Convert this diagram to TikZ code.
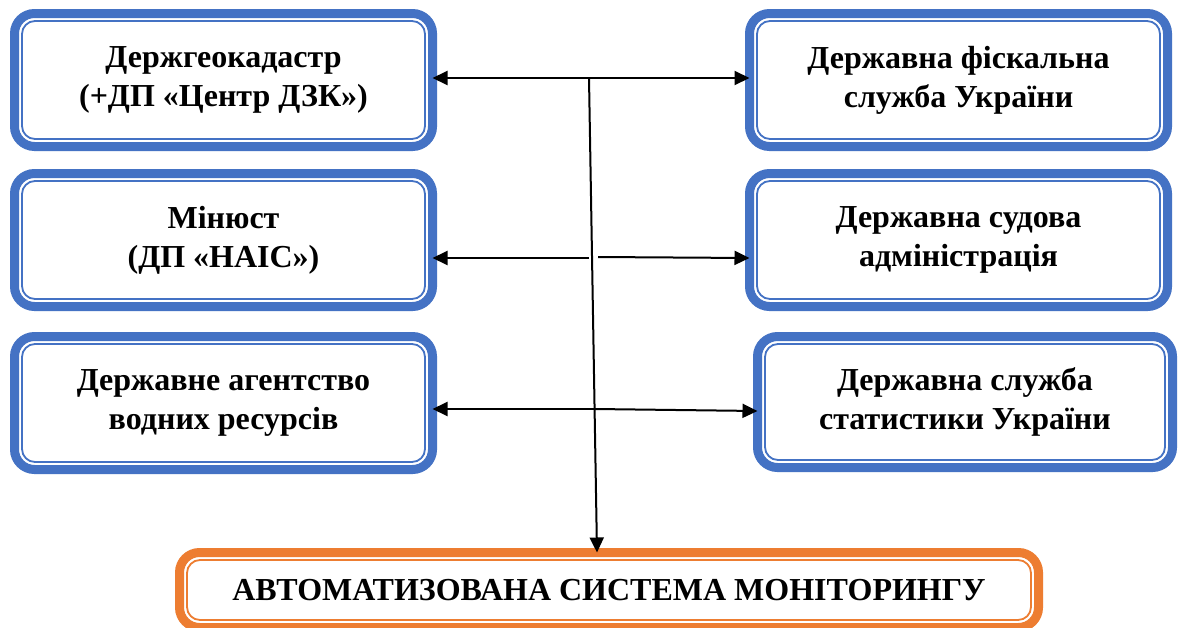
\documentclass[tikz,border=0pt]{standalone}
\usepackage{fontspec}
\setmainfont{Liberation Serif}
\usetikzlibrary{arrows.meta}
\definecolor{boxblue}{HTML}{4472C4}
\definecolor{boxorange}{HTML}{ED7D31}
\begin{document}
\begin{tikzpicture}[x=1pt,y=-1pt,
  orgbox/.style={draw=boxblue, line width=9pt, rounded corners=20pt,
    minimum width=418pt, minimum height=133pt, inner sep=0pt, outer sep=0pt,
    align=center, font=\fontsize{32}{39}\selectfont\bfseries},
  mainbox/.style={orgbox, draw=boxorange, minimum width=859pt, minimum height=75pt},
  link/.style={line width=2pt, -{Triangle[length=15pt,width=14pt]}}]
\useasboundingbox[fill=white] (0,0) rectangle (1181,627);
% nodes
\node[orgbox] (l1) at (223.5,80) {Держгеокадастр\\(+ДП «Центр ДЗК»)};
\node[orgbox] (l2) at (223.5,240) {Мінюст\\(ДП «НАІС»)};
\node[orgbox] (l3) at (223.5,403) {Державне агентство\\водних ресурсів};
\node[orgbox] (r1) at (958.5,80) {Державна фіскальна\\служба України};
\node[orgbox] (r2) at (958.5,240) {Державна судова\\адміністрація};
\node[orgbox, minimum width=415pt, minimum height=131pt] (r3) at (965,402) {Державна служба\\статистики України};
\node[mainbox] (ams) at (609,590) {АВТОМАТИЗОВАНА СИСТЕМА МОНІТОРИНГУ};
% inner thin borders
\foreach \n/\c in {l1/boxblue,l2/boxblue,l3/boxblue,r1/boxblue,r2/boxblue,r3/boxblue,ams/boxorange}
  \draw[\c, line width=1.8pt, rounded corners=13pt]
    ([shift={(7.5pt,-7.5pt)}]\n.north west) rectangle ([shift={(-7.5pt,7.5pt)}]\n.south east);
% junction coordinates
\coordinate (vtop) at (589,78);
\coordinate (jm) at (589,258);
\coordinate (jmr) at (598,257);
\coordinate (jb) at (595,409);
% connectors
\draw[link] (vtop) -- ([yshift=2pt]l1.east);
\draw[link] (vtop) -- ([yshift=2pt]r1.west);
\draw[link] (vtop) -- ([xshift=-12pt]ams.north);
\draw[link] (jm) -- ([yshift=-18pt]l2.east);
\draw[link] (jmr) -- ([yshift=-18pt]r2.west);
\draw[link] (jb) -- ([yshift=-6pt]l3.east);
\draw[link] (jb) -- ([yshift=-9pt]r3.west);
\end{tikzpicture}
\end{document}
